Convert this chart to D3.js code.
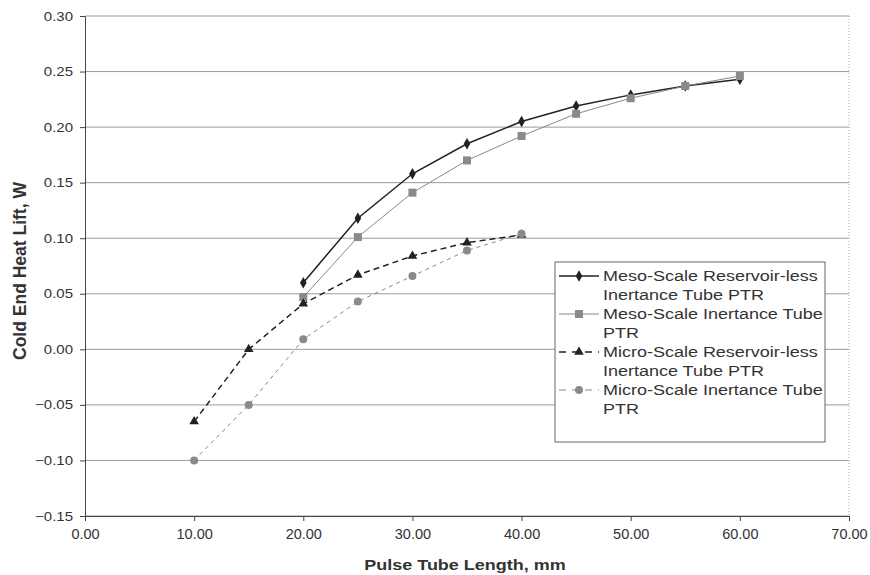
<!DOCTYPE html>
<html>
<head>
<meta charset="utf-8">
<script src="https://cdn.jsdelivr.net/npm/d3@7"></script>
<style>
  body { margin: 0; background: #fff; }
  svg text { font-family: Arial, "Liberation Sans", sans-serif; fill: #333; }
</style>
</head>
<body>
<div id="chart"></div>
<script>
// data
const mesoResLessX = [20, 25, 30, 35, 40, 45, 50, 55, 60];
const mesoResLessY = [0.060, 0.118, 0.158, 0.185, 0.205, 0.219, 0.229, 0.237, 0.243];
const mesoInertX = [20, 25, 30, 35, 40, 45, 50, 55, 60];
const mesoInertY = [0.047, 0.101, 0.141, 0.170, 0.192, 0.212, 0.226, 0.237, 0.246];
const microResLessX = [10, 15, 20, 25, 30, 35, 40];
const microResLessY = [-0.065, 0.000, 0.041, 0.067, 0.084, 0.096, 0.103];
const microInertX = [10, 15, 20, 25, 30, 35, 40];
const microInertY = [-0.100, -0.050, 0.009, 0.043, 0.066, 0.089, 0.104];
const xTicks = [0, 10, 20, 30, 40, 50, 60, 70];
const yTicks = [-0.15, -0.10, -0.05, 0.00, 0.05, 0.10, 0.15, 0.20, 0.25, 0.30];
const seriesNames = [
  ["Meso-Scale Reservoir-less", "Inertance Tube PTR"],
  ["Meso-Scale Inertance Tube", "PTR"],
  ["Micro-Scale Reservoir-less", "Inertance Tube PTR"],
  ["Micro-Scale Inertance Tube", "PTR"]
];

const series = [
  { xs: mesoResLessX, ys: mesoResLessY, color: "#222", mcolor: "#222", width: 1.5, dash: null, marker: "diamond" },
  { xs: mesoInertX, ys: mesoInertY, color: "#888", mcolor: "#8a8a8a", width: 1, dash: null, marker: "square" },
  { xs: microResLessX, ys: microResLessY, color: "#222", mcolor: "#222", width: 1.5, dash: "6,4", marker: "triangle" },
  { xs: microInertX, ys: microInertY, color: "#888", mcolor: "#8a8a8a", width: 1, dash: "4,4", marker: "circle" }
];

// the scan is a little stretched sideways
const stretch = 1.2;

const width = 870, height = 575;
const margin = { top: 16, right: 21, bottom: 59, left: 85 };
const w = width - margin.left - margin.right;
const h = height - margin.top - margin.bottom;

const svg = d3.select("#chart").append("svg")
  .attr("width", width).attr("height", height);

const g = svg.append("g")
  .attr("transform", `translate(${margin.left},${margin.top})`);

const x = d3.scaleLinear().domain([0, 70]).range([0, w]);
const y = d3.scaleLinear().domain([-0.15, 0.30]).range([h, 0]);

// gridlines
g.append("g")
  .selectAll("line")
  .data(yTicks)
  .join("line")
  .attr("x1", 0).attr("x2", w)
  .attr("y1", d => y(d)).attr("y2", d => y(d))
  .attr("stroke", "#9a9a9a").attr("stroke-width", 1);

// right border dotted
g.append("line")
  .attr("x1", w).attr("x2", w).attr("y1", 0).attr("y2", h)
  .attr("stroke", "#aaa").attr("stroke-dasharray", "1,2");

// axes
const xAxis = g.append("g")
  .attr("transform", `translate(0,${h})`)
  .call(d3.axisBottom(x).tickValues(xTicks).tickSize(5).tickFormat(d3.format(".2f")));
const yAxis = g.append("g")
  .call(d3.axisLeft(y).tickValues(yTicks).tickSize(5).tickFormat(d3.format(".2f")));

[xAxis, yAxis].forEach(a => {
  a.select(".domain").attr("stroke", "#444");
  a.selectAll(".tick line").attr("stroke", "#444");
  a.selectAll(".tick text")
    .attr("font-family", "Arial, 'Liberation Sans', sans-serif")
    .attr("fill", "#333");
});
xAxis.selectAll(".tick text").attr("font-size", 14.5).attr("dy", "1.05em");
yAxis.selectAll(".tick text")
  .attr("font-size", 12.5)
  .attr("x", 0)
  .attr("transform", `translate(-12,0) scale(${stretch},1)`);

// axis titles
svg.append("text")
  .attr("transform", `translate(${margin.left + w / 2 - 2},570) scale(${stretch},1)`)
  .attr("text-anchor", "middle")
  .attr("font-size", 15).attr("font-weight", "bold")
  .text("Pulse Tube Length, mm");

svg.append("text")
  .attr("transform", `translate(26,271) rotate(-90)`)
  .attr("text-anchor", "middle")
  .attr("font-size", 17.5).attr("font-weight", "bold")
  .text("Cold End Heat Lift, W");

// markers
function drawMarker(sel, type, color) {
  if (type === "diamond") {
    sel.append("path").attr("d", d3.symbol(d3.symbolDiamond, 38)()).attr("fill", color);
  } else if (type === "square") {
    sel.append("rect").attr("x", -4).attr("y", -4).attr("width", 8).attr("height", 8).attr("fill", color);
  } else if (type === "triangle") {
    sel.append("path").attr("d", d3.symbol(d3.symbolTriangle, 40)()).attr("fill", color);
  } else {
    sel.append("circle").attr("r", 4).attr("fill", color);
  }
}

const line = d3.line().x(d => x(d[0])).y(d => y(d[1]));

series.forEach(s => {
  const pts = s.xs.map((v, i) => [v, s.ys[i]]);
  g.append("path")
    .datum(pts)
    .attr("d", line)
    .attr("fill", "none")
    .attr("stroke", s.color)
    .attr("stroke-width", s.width)
    .attr("stroke-dasharray", s.dash);
  g.append("g")
    .selectAll("g")
    .data(pts)
    .join("g")
    .attr("transform", d => `translate(${x(d[0])},${y(d[1])})`)
    .each(function () { drawMarker(d3.select(this), s.marker, s.mcolor); });
});

// legend
const legend = svg.append("g").attr("transform", "translate(555,262)");
legend.append("rect")
  .attr("width", 270).attr("height", 180)
  .attr("fill", "#fff").attr("stroke", "#666").attr("stroke-width", 1);

series.forEach((s, i) => {
  const row = legend.append("g").attr("transform", `translate(0,${14 + i * 38})`);
  row.append("line")
    .attr("x1", 4).attr("x2", 44).attr("y1", 0).attr("y2", 0)
    .attr("stroke", s.color).attr("stroke-width", s.width)
    .attr("stroke-dasharray", s.dash ? "7,6" : null);
  const m = row.append("g").attr("transform", "translate(24,0)");
  drawMarker(m, s.marker, s.mcolor);
  row.append("text")
    .attr("transform", `translate(48,5) scale(${stretch},1)`)
    .attr("font-size", 15)
    .selectAll("tspan")
    .data(seriesNames[i])
    .join("tspan")
    .attr("x", 0)
    .attr("dy", (d, j) => j === 0 ? 0 : 19)
    .text(d => d);
});
</script>
</body>
</html>
